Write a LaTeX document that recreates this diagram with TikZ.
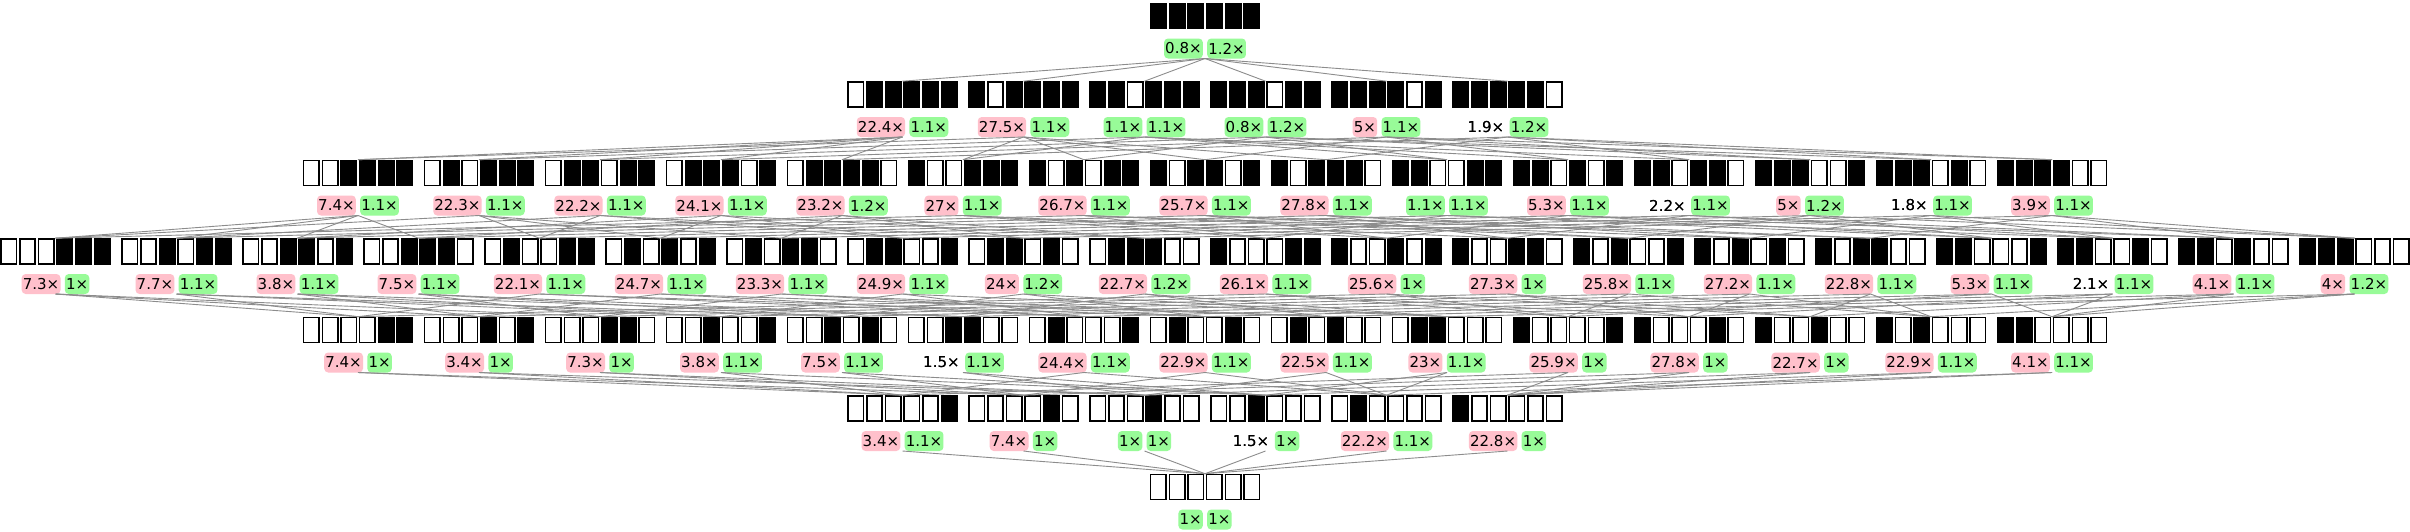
\documentclass[tikz,border=0pt]{standalone}
\usepackage{fontspec}
\setmainfont{DejaVu Sans}
\definecolor{lpink}{RGB}{255,192,203}
\definecolor{lgreen}{RGB}{152,251,152}
\tikzset{
  boxnode/.style={inner sep=0pt, outer sep=0pt, minimum width=112pt, minimum height=26.6pt},
  pairnode/.style={inner sep=0pt, outer sep=0pt, minimum height=20pt, font=\fontsize{15}{18}\selectfont},
  lab/.style={rounded corners=4pt, inner xsep=1.2pt, inner ysep=0pt, outer sep=0pt, minimum height=20pt, font=\fontsize{15}{18}\selectfont},
  edge/.style={draw=black!45, line width=0.9pt},
  whitecell/.style={draw=black, line width=1.6pt, fill=white},
  blackcell/.style={fill=black},
}
\newcommand\mk[8]{%
  \pgfmathsetmacro\cx{1205+(#2-(#3-1)/2)*121}%
  \pgfmathsetmacro\cy{-(16+78.5*#4)}%
  \pgfmathsetmacro\ly{\cy-32.5}%
  \node[boxnode] (b#1) at (\cx,\cy) {};
  \foreach \i in {0,...,5}{%
    \pgfmathtruncatemacro\bit{mod(floor(#1/pow(2,5-\i)),2)}%
    \pgfmathsetmacro\ccx{\cx+(\i-2.5)*18.667}%
    \ifnum\bit=1
      \fill[blackcell] (\ccx-8.5,\cy-13.3) rectangle (\ccx+8.5,\cy+13.3);
    \else
      \draw[whitecell] (\ccx-7.7,\cy-12.5) rectangle (\ccx+7.7,\cy+12.5);
    \fi
  }
  \node[pairnode] (l#1) at (\cx,\ly) {\hspace{1.2pt}#6\hspace{1.2pt}\hspace{5.5pt}\hspace{1.2pt}#8\hspace{1.2pt}};
  \node[lab,fill=#5,anchor=west] (la#1) at (l#1.west) {#6};
  \node[lab,fill=#7,anchor=east] (lb#1) at (l#1.east) {#8};
}
\begin{document}
\begin{tikzpicture}[x=1pt,y=1pt]
\fill[white] (0,0) rectangle (2410,-531);
\useasboundingbox (0,0) rectangle (2410,-531);
% level 0
\mk{63}{0}{1}{0}{lgreen}{0.8×}{lgreen}{1.2×}
% level 1
\mk{31}{0}{6}{1}{lpink}{22.4×}{lgreen}{1.1×}
\mk{47}{1}{6}{1}{lpink}{27.5×}{lgreen}{1.1×}
\mk{55}{2}{6}{1}{lgreen}{1.1×}{lgreen}{1.1×}
\mk{59}{3}{6}{1}{lgreen}{0.8×}{lgreen}{1.2×}
\mk{61}{4}{6}{1}{lpink}{5×}{lgreen}{1.1×}
\mk{62}{5}{6}{1}{none}{1.9×}{lgreen}{1.2×}
% level 2
\mk{15}{0}{15}{2}{lpink}{7.4×}{lgreen}{1.1×}
\mk{23}{1}{15}{2}{lpink}{22.3×}{lgreen}{1.1×}
\mk{27}{2}{15}{2}{lpink}{22.2×}{lgreen}{1.1×}
\mk{29}{3}{15}{2}{lpink}{24.1×}{lgreen}{1.1×}
\mk{30}{4}{15}{2}{lpink}{23.2×}{lgreen}{1.2×}
\mk{39}{5}{15}{2}{lpink}{27×}{lgreen}{1.1×}
\mk{43}{6}{15}{2}{lpink}{26.7×}{lgreen}{1.1×}
\mk{45}{7}{15}{2}{lpink}{25.7×}{lgreen}{1.1×}
\mk{46}{8}{15}{2}{lpink}{27.8×}{lgreen}{1.1×}
\mk{51}{9}{15}{2}{lgreen}{1.1×}{lgreen}{1.1×}
\mk{53}{10}{15}{2}{lpink}{5.3×}{lgreen}{1.1×}
\mk{54}{11}{15}{2}{none}{2.2×}{lgreen}{1.1×}
\mk{57}{12}{15}{2}{lpink}{5×}{lgreen}{1.2×}
\mk{58}{13}{15}{2}{none}{1.8×}{lgreen}{1.1×}
\mk{60}{14}{15}{2}{lpink}{3.9×}{lgreen}{1.1×}
% level 3
\mk{7}{0}{20}{3}{lpink}{7.3×}{lgreen}{1×}
\mk{11}{1}{20}{3}{lpink}{7.7×}{lgreen}{1.1×}
\mk{13}{2}{20}{3}{lpink}{3.8×}{lgreen}{1.1×}
\mk{14}{3}{20}{3}{lpink}{7.5×}{lgreen}{1.1×}
\mk{19}{4}{20}{3}{lpink}{22.1×}{lgreen}{1.1×}
\mk{21}{5}{20}{3}{lpink}{24.7×}{lgreen}{1.1×}
\mk{22}{6}{20}{3}{lpink}{23.3×}{lgreen}{1.1×}
\mk{25}{7}{20}{3}{lpink}{24.9×}{lgreen}{1.1×}
\mk{26}{8}{20}{3}{lpink}{24×}{lgreen}{1.2×}
\mk{28}{9}{20}{3}{lpink}{22.7×}{lgreen}{1.2×}
\mk{35}{10}{20}{3}{lpink}{26.1×}{lgreen}{1.1×}
\mk{37}{11}{20}{3}{lpink}{25.6×}{lgreen}{1×}
\mk{38}{12}{20}{3}{lpink}{27.3×}{lgreen}{1×}
\mk{41}{13}{20}{3}{lpink}{25.8×}{lgreen}{1.1×}
\mk{42}{14}{20}{3}{lpink}{27.2×}{lgreen}{1.1×}
\mk{44}{15}{20}{3}{lpink}{22.8×}{lgreen}{1.1×}
\mk{49}{16}{20}{3}{lpink}{5.3×}{lgreen}{1.1×}
\mk{50}{17}{20}{3}{none}{2.1×}{lgreen}{1.1×}
\mk{52}{18}{20}{3}{lpink}{4.1×}{lgreen}{1.1×}
\mk{56}{19}{20}{3}{lpink}{4×}{lgreen}{1.2×}
% level 4
\mk{3}{0}{15}{4}{lpink}{7.4×}{lgreen}{1×}
\mk{5}{1}{15}{4}{lpink}{3.4×}{lgreen}{1×}
\mk{6}{2}{15}{4}{lpink}{7.3×}{lgreen}{1×}
\mk{9}{3}{15}{4}{lpink}{3.8×}{lgreen}{1.1×}
\mk{10}{4}{15}{4}{lpink}{7.5×}{lgreen}{1.1×}
\mk{12}{5}{15}{4}{none}{1.5×}{lgreen}{1.1×}
\mk{17}{6}{15}{4}{lpink}{24.4×}{lgreen}{1.1×}
\mk{18}{7}{15}{4}{lpink}{22.9×}{lgreen}{1.1×}
\mk{20}{8}{15}{4}{lpink}{22.5×}{lgreen}{1.1×}
\mk{24}{9}{15}{4}{lpink}{23×}{lgreen}{1.1×}
\mk{33}{10}{15}{4}{lpink}{25.9×}{lgreen}{1×}
\mk{34}{11}{15}{4}{lpink}{27.8×}{lgreen}{1×}
\mk{36}{12}{15}{4}{lpink}{22.7×}{lgreen}{1×}
\mk{40}{13}{15}{4}{lpink}{22.9×}{lgreen}{1.1×}
\mk{48}{14}{15}{4}{lpink}{4.1×}{lgreen}{1.1×}
% level 5
\mk{1}{0}{6}{5}{lpink}{3.4×}{lgreen}{1.1×}
\mk{2}{1}{6}{5}{lpink}{7.4×}{lgreen}{1×}
\mk{4}{2}{6}{5}{lgreen}{1×}{lgreen}{1×}
\mk{8}{3}{6}{5}{none}{1.5×}{lgreen}{1×}
\mk{16}{4}{6}{5}{lpink}{22.2×}{lgreen}{1.1×}
\mk{32}{5}{6}{5}{lpink}{22.8×}{lgreen}{1×}
% level 6
\mk{0}{0}{1}{6}{lgreen}{1×}{lgreen}{1×}
% edges
\foreach \v in {1,...,63}{%
  \foreach \j in {0,...,5}{%
    \pgfmathtruncatemacro\bit{mod(floor(\v/pow(2,\j)),2)}%
    \ifnum\bit=1
      \pgfmathtruncatemacro\chld{\v-pow(2,\j)}%
      \draw[edge] (l\v.south) -- (b\chld.north);
    \fi
  }
}
\end{tikzpicture}
\end{document}
